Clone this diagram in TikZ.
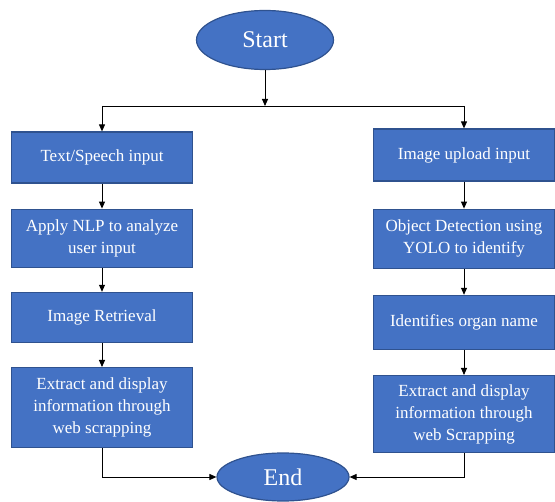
\documentclass[tikz,border=0pt]{standalone}
\usepackage{fontspec}
\setmainfont{Liberation Serif}
\usepackage{tikz}
\usetikzlibrary{arrows.meta, positioning, shapes.geometric}
\definecolor{BoxBlue}{RGB}{68,114,196}
\definecolor{EdgeBlue}{RGB}{47,82,143}

\begin{document}
\begin{tikzpicture}[
    x=1pt, y=-1pt,
    term/.style={ellipse, draw=EdgeBlue, fill=BoxBlue, line width=1.2pt, text=white, font=\fontsize{24}{28}\selectfont},
    proc/.style={rectangle, draw=EdgeBlue, fill=BoxBlue, line width=1.2pt, text=white, minimum width=181pt, align=center, inner sep=2pt, font=\fontsize{17}{22}\selectfont},
    arrow/.style={-{Triangle[length=7pt,width=6pt]}, line width=0.9pt}
]
\useasboundingbox (0,0) rectangle (555,502);

\node[term, minimum width=137pt, minimum height=59pt] (start) at (265,40) {Start};
\coordinate (bus) at (265,106);

% left branch
\node[proc, minimum height=51pt] (txt) at (102,157.5) {Text/Speech input};
\node[proc, minimum height=58pt, below=25pt of txt] (nlp) {Apply NLP to analyze\\user input};
\node[proc, minimum height=50pt, below=24pt of nlp] (ret) {Image Retrieval};
\node[proc, minimum height=80pt, below=24pt of ret] (extl) {Extract and display\\information through\\web scrapping};

% right branch
\node[proc, minimum height=52pt] (img) at (464,155) {Image upload input};
\node[proc, minimum height=59pt, below=27pt of img] (yolo) {Object Detection using\\YOLO to identify};
\node[proc, minimum height=54pt, below=26pt of yolo] (organ) {Identifies organ name};
\node[proc, minimum height=77pt, below=25pt of organ] (extr) {Extract and display\\information through\\web Scrapping};

\node[term, minimum width=132pt, minimum height=48pt] (end) at (283,477) {End};

\draw[arrow] (start) -- (bus);
\draw[line width=0.9pt] (txt.north |- bus) -- (img.north |- bus);
\draw[arrow] (txt.north |- bus) -- (txt);
\draw[arrow] (img.north |- bus) -- (img);

\draw[arrow] (txt) -- (nlp);
\draw[arrow] (nlp) -- (ret);
\draw[arrow] (ret) -- (extl);
\draw[arrow] (img) -- (yolo);
\draw[arrow] (yolo) -- (organ);
\draw[arrow] (organ) -- (extr);

\draw[arrow] (extl.south) |- (end.west);
\draw[arrow] (extr.south) |- (end.east);
\end{tikzpicture}
\end{document}
